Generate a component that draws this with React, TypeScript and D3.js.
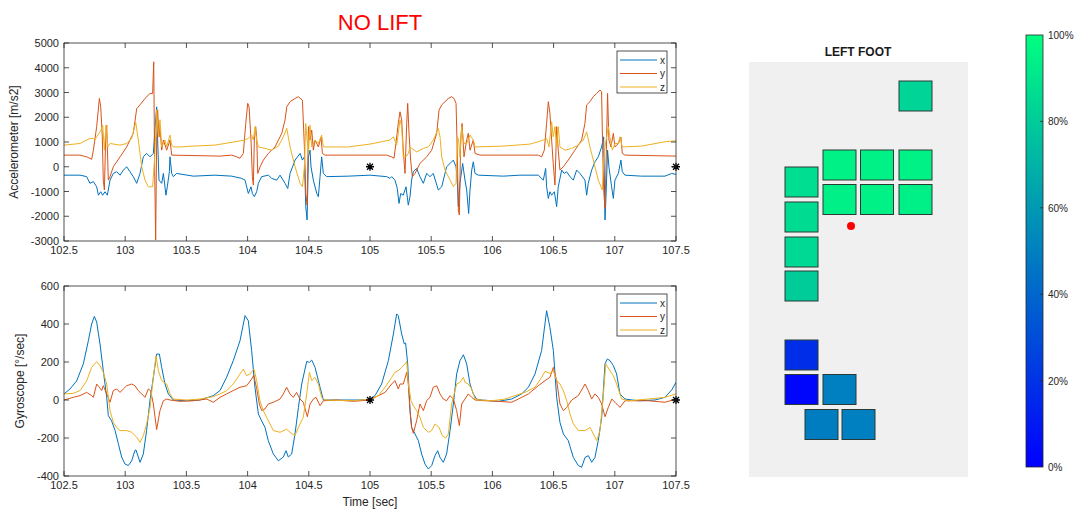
import React from 'react';
import * as d3 from 'd3';

// ---------- DATA ----------
const timeTicks = [102.5, 103, 103.5, 104, 104.5, 105, 105.5, 106, 106.5, 107, 107.5];
const accTicks = [-3000, -2000, -1000, 0, 1000, 2000, 3000, 4000, 5000];
const gyroTicks = [-400, -200, 0, 200, 400, 600];
const seriesNames = ['x', 'y', 'z'];
const seriesColors = ['#0072BD', '#D95319', '#EDB120'];
const markerTimes = [105, 107.5];

const accX: [number, number][] = [[102.5,-340],[102.631,-340],[102.685,-400],[102.712,-670],[102.74,-600],[102.767,-810],[102.781,-1150],[102.8,-1010],[102.816,-1150],[102.835,-1010],[102.854,-1150],[102.876,-540],[102.903,-270],[102.93,-200],[102.958,-340],[102.985,-135],[103.012,0],[103.039,-200],[103.066,-400],[103.094,-670],[103.121,-270],[103.148,400],[103.175,540],[103.203,400],[103.23,540],[103.243,1500],[103.257,2420],[103.265,1080],[103.276,-540],[103.298,-670],[103.312,-270],[103.333,-1150],[103.344,-810],[103.361,-200],[103.366,400],[103.38,-270],[103.393,-400],[103.42,-270],[103.557,-380],[103.734,-340],[103.87,-380],[103.952,-470],[103.979,-540],[104.006,-1080],[104.028,-810],[104.039,-1080],[104.055,-1210],[104.074,-1010],[104.088,-670],[104.115,-400],[104.17,-340],[104.197,-470],[104.238,-540],[104.265,-340],[104.306,-670],[104.328,-880],[104.347,-270],[104.388,270],[104.429,540],[104.448,270],[104.464,400],[104.475,-1600],[104.486,-2150],[104.497,400],[104.51,670],[104.518,0],[104.537,-540],[104.565,-1080],[104.578,-1210],[104.592,-400],[104.605,400],[104.619,-270],[104.646,-400],[104.823,-380],[105.0,-340],[105.136,-400],[105.163,-470],[105.177,-400],[105.204,-540],[105.223,-880],[105.237,-1480],[105.251,-1080],[105.272,-1150],[105.294,-810],[105.313,-1550],[105.327,-1210],[105.34,-540],[105.354,-200],[105.381,-70],[105.408,-400],[105.436,-670],[105.463,-270],[105.49,-400],[105.517,-270],[105.558,-940],[105.586,-810],[105.626,0],[105.654,135],[105.681,270],[105.703,0],[105.714,-670],[105.722,-1610],[105.735,-670],[105.757,135],[105.776,-540],[105.79,-940],[105.806,-1890],[105.817,-940],[105.831,-135],[105.844,200],[105.858,-270],[105.885,-340],[106.089,-380],[106.225,-340],[106.375,-340],[106.416,-540],[106.435,-70],[106.443,-810],[106.457,-1280],[106.47,-1010],[106.484,-1150],[106.506,-1010],[106.525,-1610],[106.538,-810],[106.566,-135],[106.587,-270],[106.606,-200],[106.634,-400],[106.661,-540],[106.688,-135],[106.715,-270],[106.756,-540],[106.77,-1150],[106.783,-670],[106.811,-135],[106.838,200],[106.865,400],[106.892,800],[106.909,1210],[106.92,-2150],[106.928,-1210],[106.941,670],[106.952,0],[106.974,-810],[106.988,-1280],[107.001,-540],[107.029,-270],[107.05,270],[107.061,-200],[107.083,-340],[107.219,-380],[107.41,-380],[107.464,-270],[107.5,-310]];

const accY: [number, number][] = [[102.5,470],[102.631,470],[102.685,400],[102.726,300],[102.74,670],[102.767,1620],[102.789,2760],[102.8,2420],[102.813,1210],[102.821,-540],[102.83,-940],[102.84,1080],[102.849,1680],[102.862,-540],[102.876,-400],[102.903,0],[102.958,400],[103.012,800],[103.066,1350],[103.094,2350],[103.121,2500],[103.162,2760],[103.203,2960],[103.224,2960],[103.233,4240],[103.241,-200],[103.249,-2960],[103.257,1080],[103.265,2300],[103.276,1200],[103.284,1620],[103.298,670],[103.312,1080],[103.339,670],[103.366,1080],[103.38,470],[103.775,430],[103.87,470],[103.911,400],[103.938,340],[103.965,540],[103.985,1750],[104.001,2560],[104.012,2420],[104.028,1080],[104.039,-400],[104.047,-740],[104.055,1080],[104.066,1620],[104.074,1210],[104.083,-270],[104.102,0],[104.129,270],[104.17,540],[104.224,800],[104.279,1350],[104.306,1890],[104.32,2420],[104.347,2630],[104.388,2760],[104.415,2830],[104.448,2690],[104.464,800],[104.475,-1080],[104.486,-1550],[104.497,1620],[104.51,1080],[104.524,1480],[104.537,670],[104.551,1080],[104.578,800],[104.6,1200],[104.611,540],[104.633,470],[105.136,470],[105.177,400],[105.196,340],[105.212,940],[105.231,1750],[105.245,2220],[105.259,1890],[105.272,670],[105.286,-270],[105.3,1750],[105.308,2560],[105.319,1350],[105.332,270],[105.346,-400],[105.368,-270],[105.408,135],[105.463,400],[105.504,670],[105.545,1350],[105.564,2290],[105.586,2500],[105.64,2760],[105.667,2830],[105.686,2760],[105.703,2560],[105.714,400],[105.722,-1750],[105.73,-1950],[105.741,1080],[105.752,1750],[105.768,400],[105.79,1080],[105.803,1350],[105.817,670],[105.844,1080],[105.858,540],[105.899,470],[106.375,470],[106.402,400],[106.424,670],[106.443,1750],[106.457,2630],[106.47,2160],[106.484,1080],[106.497,135],[106.511,-740],[106.525,1620],[106.538,670],[106.552,-135],[106.579,0],[106.62,270],[106.674,670],[106.729,1080],[106.756,1750],[106.77,2500],[106.797,2630],[106.824,2830],[106.851,2960],[106.879,3100],[106.892,3030],[106.901,670],[106.911,-1080],[106.92,-1680],[106.933,1080],[106.941,2960],[106.952,1080],[106.969,800],[106.988,1350],[107.001,800],[107.029,940],[107.05,1200],[107.061,540],[107.083,470],[107.5,430]];

const accZ: [number, number][] = [[102.5,875],[102.631,940],[102.712,1145],[102.74,1145],[102.753,1080],[102.767,1210],[102.8,1450],[102.816,1680],[102.83,670],[102.843,1680],[102.857,800],[102.876,940],[102.958,875],[103.012,940],[103.053,1145],[103.086,1800],[103.107,1080],[103.135,0],[103.162,-540],[103.189,-810],[103.224,-810],[103.243,540],[103.257,2300],[103.271,1200],[103.284,1900],[103.298,800],[103.325,1080],[103.339,800],[103.366,1280],[103.38,875],[103.393,800],[103.448,800],[103.557,835],[103.734,875],[103.897,1010],[103.979,1080],[104.006,1145],[104.033,1280],[104.047,1080],[104.061,1620],[104.074,1080],[104.088,800],[104.142,740],[104.197,670],[104.251,830],[104.292,1210],[104.32,1550],[104.347,800],[104.388,0],[104.429,-670],[104.448,-810],[104.464,0],[104.475,1750],[104.486,1080],[104.497,540],[104.51,1680],[104.524,800],[104.551,1080],[104.578,940],[104.605,1280],[104.619,800],[104.823,800],[105.0,915],[105.163,1080],[105.191,1210],[105.218,875],[105.245,1890],[105.259,1620],[105.272,400],[105.294,400],[105.313,540],[105.327,800],[105.381,600],[105.436,740],[105.477,800],[105.517,1080],[105.558,1550],[105.572,1210],[105.586,400],[105.613,-130],[105.654,-540],[105.681,-800],[105.703,-670],[105.714,1210],[105.724,1080],[105.735,400],[105.749,1620],[105.768,940],[105.79,940],[105.817,1280],[105.844,1080],[105.858,800],[106.089,835],[106.307,915],[106.375,1010],[106.416,1080],[106.443,1145],[106.462,800],[106.484,1820],[106.497,1210],[106.511,1620],[106.525,800],[106.538,1620],[106.552,800],[106.593,670],[106.647,740],[106.702,875],[106.743,1080],[106.77,1410],[106.797,800],[106.838,0],[106.865,-540],[106.898,-940],[106.906,0],[106.92,800],[106.933,1210],[106.947,1620],[106.96,1210],[106.98,670],[107.001,940],[107.029,940],[107.042,1210],[107.061,800],[107.219,835],[107.41,1010],[107.5,1050]];

const gyroX: [number, number][] = [[102.5,32],[102.549,58],[102.603,100],[102.658,190],[102.699,312],[102.726,400],[102.748,440],[102.767,410],[102.794,295],[102.821,155],[102.849,14],[102.862,-82],[102.889,-110],[102.917,-160],[102.944,-230],[102.971,-300],[102.998,-337],[103.026,-345],[103.053,-320],[103.08,-265],[103.088,-263],[103.107,-300],[103.121,-328],[103.148,-284],[103.175,-160],[103.203,0],[103.23,120],[103.257,242],[103.279,242],[103.298,172],[103.325,85],[103.352,32],[103.393,0],[103.502,-4],[103.611,0],[103.72,23],[103.775,50],[103.829,120],[103.883,207],[103.938,312],[103.979,444],[104.006,417],[104.033,260],[104.06,67],[104.088,-74],[104.115,-110],[104.142,-144],[104.169,-214],[104.21,-284],[104.251,-320],[104.292,-300],[104.314,-267],[104.333,-300],[104.36,-284],[104.387,-180],[104.415,-40],[104.442,84],[104.483,203],[104.505,198],[104.524,210],[104.551,172],[104.592,67],[104.619,0],[104.7,0],[104.918,0],[105.0,5],[105.041,23],[105.095,84],[105.15,207],[105.191,347],[105.218,453],[105.231,444],[105.259,347],[105.28,295],[105.291,300],[105.308,190],[105.327,-56],[105.34,-144],[105.368,-179],[105.395,-214],[105.422,-284],[105.449,-337],[105.477,-363],[105.504,-345],[105.531,-293],[105.553,-267],[105.572,-302],[105.599,-328],[105.626,-284],[105.654,-161],[105.681,-21],[105.708,137],[105.735,207],[105.763,238],[105.79,190],[105.817,84],[105.844,32],[105.871,5],[105.912,0],[105.994,-4],[106.048,-7],[106.157,5],[106.239,32],[106.294,67],[106.348,137],[106.402,260],[106.443,470],[106.47,382],[106.498,260],[106.525,14],[106.552,-118],[106.58,-179],[106.62,-214],[106.661,-302],[106.702,-345],[106.729,-354],[106.757,-302],[106.784,-293],[106.811,-328],[106.838,-302],[106.865,-214],[106.893,-91],[106.92,190],[106.939,216],[106.961,207],[106.988,181],[107.015,137],[107.042,32],[107.083,5],[107.192,-4],[107.328,0],[107.41,14],[107.465,53],[107.5,93]];

const gyroY: [number, number][] = [[102.5,0],[102.576,14],[102.631,23],[102.685,40],[102.726,23],[102.74,14],[102.767,84],[102.789,67],[102.808,50],[102.821,75],[102.849,32],[102.876,-12],[102.903,50],[102.93,58],[102.958,40],[102.985,58],[103.012,75],[103.053,84],[103.08,75],[103.107,49],[103.135,32],[103.162,14],[103.189,58],[103.208,49],[103.23,-21],[103.257,-156],[103.284,-56],[103.312,-4],[103.339,5],[103.366,0],[103.448,-7],[103.557,-4],[103.666,5],[103.72,-12],[103.775,14],[103.829,32],[103.883,50],[103.938,67],[103.992,75],[104.033,110],[104.05,130],[104.074,60],[104.096,-21],[104.115,-56],[104.142,-47],[104.169,-21],[104.21,-12],[104.265,5],[104.292,32],[104.319,67],[104.346,32],[104.373,14],[104.4,40],[104.428,5],[104.455,-12],[104.488,-88],[104.51,-21],[104.537,5],[104.559,14],[104.592,-30],[104.619,-4],[104.728,0],[104.864,-7],[105.0,0],[105.068,23],[105.123,40],[105.177,84],[105.204,102],[105.231,58],[105.245,84],[105.272,84],[105.3,146],[105.313,84],[105.327,-56],[105.34,-144],[105.354,-175],[105.381,-109],[105.408,-21],[105.436,-56],[105.463,-3],[105.49,14],[105.517,67],[105.545,75],[105.572,32],[105.599,5],[105.626,-4],[105.654,23],[105.681,5],[105.708,-56],[105.73,-135],[105.749,-21],[105.776,5],[105.803,32],[105.831,14],[105.858,0],[105.94,-4],[106.048,-7],[106.157,-12],[106.212,5],[106.294,32],[106.375,75],[106.43,102],[106.47,119],[106.498,172],[106.525,102],[106.552,-21],[106.58,-56],[106.607,-39],[106.648,0],[106.702,23],[106.757,84],[106.784,49],[106.811,5],[106.838,32],[106.865,14],[106.893,-21],[106.92,-88],[106.947,-39],[106.975,5],[107.002,-12],[107.042,-39],[107.083,-4],[107.274,-4],[107.41,-12],[107.5,5]];

const gyroZ: [number, number][] = [[102.5,32],[102.576,35],[102.631,50],[102.685,100],[102.726,172],[102.767,202],[102.794,181],[102.821,146],[102.849,84],[102.876,-56],[102.903,-118],[102.93,-144],[102.958,-161],[103.012,-161],[103.053,-170],[103.094,-196],[103.121,-223],[103.148,-188],[103.175,-126],[103.203,-39],[103.23,119],[103.252,233],[103.271,154],[103.298,102],[103.339,84],[103.366,32],[103.393,5],[103.502,0],[103.611,5],[103.72,18],[103.775,32],[103.829,49],[103.883,84],[103.938,137],[103.965,163],[103.992,128],[104.019,137],[104.052,163],[104.074,102],[104.101,-4],[104.128,-56],[104.155,-91],[104.183,-126],[104.21,-161],[104.265,-170],[104.319,-153],[104.346,-170],[104.387,-188],[104.415,-144],[104.455,-91],[104.483,32],[104.505,146],[104.524,102],[104.551,119],[104.578,84],[104.605,14],[104.632,0],[104.864,-4],[105.0,5],[105.068,23],[105.123,67],[105.177,119],[105.204,146],[105.231,154],[105.259,172],[105.286,190],[105.3,203],[105.313,84],[105.335,-3],[105.354,-30],[105.381,-56],[105.408,-91],[105.436,-144],[105.477,-170],[105.504,-161],[105.531,-126],[105.564,-144],[105.591,-188],[105.618,-200],[105.64,-179],[105.667,-21],[105.708,84],[105.735,93],[105.763,119],[105.776,93],[105.803,84],[105.831,58],[105.858,5],[105.899,0],[105.994,-4],[106.103,5],[106.185,23],[106.266,40],[106.348,67],[106.402,119],[106.43,151],[106.47,140],[106.498,154],[106.525,102],[106.552,84],[106.58,49],[106.607,-3],[106.634,-74],[106.661,-126],[106.702,-161],[106.757,-161],[106.798,-144],[106.825,-179],[106.852,-214],[106.879,-161],[106.907,32],[106.926,190],[106.961,154],[106.988,128],[107.015,84],[107.056,5],[107.111,-4],[107.274,5],[107.41,14],[107.5,32]];

// Foot sensors (grid position in panel units) and pressure %
const sensorCol = [16.65, 9.05, 12.8, 16.65, 9.05, 12.8, 16.65, 5.25, 5.25, 5.25, 5.25, 5.25, 5.25, 9.05, 7.25, 10.95];
const sensorRow = [3.4, 10.3, 10.3, 10.3, 13.75, 13.75, 13.75, 12.0, 15.5, 19.0, 22.4, 29.3, 32.75, 32.75, 36.25, 36.25];
const sensorPressure = [83, 95, 95, 95, 94, 95, 94, 87, 86, 85, 80, 18, 2, 50, 49, 50];
const copPoint = [10.2, 16.4];
const colorbarTicks = [0, 20, 40, 60, 80, 100];

// ---------- LAYOUT ----------
const FONT = 'Liberation Sans, Arial, Helvetica, sans-serif';
const AX = '#262626';
const plotLeft = 64, plotRight = 676;

type Pt = [number, number];

function Panel(props: {
  top: number; bottom: number; domain: [number, number]; ticks: number[];
  series: Pt[][]; ylabel: string; ylabelX: number; id: string; xlabel?: string;
}) {
  const { top, bottom, domain, ticks, series, ylabel, ylabelX, id, xlabel } = props;
  const x = d3.scaleLinear().domain([102.5, 107.5]).range([plotLeft, plotRight]);
  const y = d3.scaleLinear().domain(domain).range([bottom, top]);
  const line = d3.line<Pt>().x(d => x(d[0])).y(d => y(d[1]));
  const tl = 5;
  const star = 'M-4,0H4M0,-4V4M-3,-3L3,3M-3,3L3,-3';
  const lx = plotRight - 59, ly = top + 8;
  return (
    <g>
      <defs>
        <clipPath id={id}>
          <rect x={plotLeft} y={top} width={plotRight - plotLeft} height={bottom - top} />
        </clipPath>
      </defs>
      <rect x={plotLeft} y={top} width={plotRight - plotLeft} height={bottom - top} fill="#fff" />
      <g clipPath={`url(#${id})`}>
        {series.map((s, i) => (
          <path key={i} d={line(s) || ''} fill="none" stroke={seriesColors[i]} strokeWidth={1} strokeLinejoin="round" />
        ))}
      </g>
      {markerTimes.map((t, i) => (
        <path key={'mm' + i} d={star} transform={`translate(${x(t)},${y(0)})`} stroke="#000" strokeWidth={1.3} fill="none" />
      ))}
      {timeTicks.map(t => (
        <g key={'xt' + t}>
          <line x1={x(t)} x2={x(t)} y1={bottom} y2={bottom - tl} stroke={AX} strokeWidth={0.8} />
          <line x1={x(t)} x2={x(t)} y1={top} y2={top + tl} stroke={AX} strokeWidth={0.8} />
          <text x={x(t)} y={bottom + 13} fontSize={11} fontFamily={FONT} fill={AX} textAnchor="middle">{String(t)}</text>
        </g>
      ))}
      {ticks.map(v => (
        <g key={'yt' + v}>
          <line x1={plotLeft} x2={plotLeft + tl} y1={y(v)} y2={y(v)} stroke={AX} strokeWidth={0.8} />
          <line x1={plotRight} x2={plotRight - tl} y1={y(v)} y2={y(v)} stroke={AX} strokeWidth={0.8} />
          <text x={plotLeft - 5} y={y(v) + 4} fontSize={11} fontFamily={FONT} fill={AX} textAnchor="end">{String(v)}</text>
        </g>
      ))}
      <rect x={plotLeft} y={top} width={plotRight - plotLeft} height={bottom - top} fill="none" stroke={AX} strokeWidth={0.8} />
      <text transform={`translate(${ylabelX},${(top + bottom) / 2}) rotate(-90)`} fontSize={12} fontFamily={FONT} fill={AX} textAnchor="middle">{ylabel}</text>
      {xlabel && (
        <text x={(plotLeft + plotRight) / 2} y={bottom + 30} fontSize={12} fontFamily={FONT} fill={AX} textAnchor="middle">{xlabel}</text>
      )}
      <rect x={lx} y={ly} width={50} height={42} fill="#fff" stroke={AX} strokeWidth={0.8} />
      {seriesNames.map((n, i) => (
        <g key={n}>
          <line x1={lx + 3} x2={lx + 40} y1={ly + 9 + i * 13.5} y2={ly + 9 + i * 13.5} stroke={seriesColors[i]} strokeWidth={1} />
          <text x={lx + 43} y={ly + 12.5 + i * 13.5} fontSize={10} fontFamily={FONT} fill={AX}>{n}</text>
        </g>
      ))}
    </g>
  );
}

export default function App() {
  const winter = d3.interpolateRgb('#0000ff', '#00ff80');
  const fx = d3.scaleLinear().domain([0, 21.9]).range([749, 968]);
  const fy = d3.scaleLinear().domain([0, 41.5]).range([62, 477]);
  const sw = 3.3, sh = 3.0;
  const cby = d3.scaleLinear().domain([0, 100]).range([467, 35]);
  const gradStops = d3.range(0, 1.0001, 0.1);
  return (
    <svg width={1082} height={511} style={{ position: 'absolute', left: 0, top: 0, background: '#fff' }}>
      <rect x={0} y={0} width={1082} height={511} fill="#fff" />
      <text x={380} y={30} fontSize={22} fontFamily={FONT} fill="#ff0000" textAnchor="middle">NO LIFT</text>
      <Panel id="cpAcc" top={43} bottom={241} domain={[-3000, 5000]} ticks={accTicks}
        series={[accX, accY, accZ]} ylabel="Accelerometer [m/s2]" ylabelX={18} />
      <Panel id="cpGyro" top={286} bottom={476} domain={[-400, 600]} ticks={gyroTicks}
        series={[gyroX, gyroY, gyroZ]} ylabel="Gyroscope [°/sec]" ylabelX={24} xlabel="Time [sec]" />

      <text x={858} y={56} fontSize={12} fontWeight="bold" fontFamily={FONT} fill="#1a1a1a" textAnchor="middle">LEFT FOOT</text>
      <rect x={fx(0)} y={fy(0)} width={fx(21.9) - fx(0)} height={fy(41.5) - fy(0)} fill="#f0f0f0" />
      {sensorPressure.map((p, i) => (
        <rect key={i}
          x={fx(sensorCol[i] - sw / 2)} y={fy(sensorRow[i] - sh / 2)}
          width={fx(sw) - fx(0)} height={fy(sh) - fy(0)}
          fill={winter(p / 100)} stroke="#2b3a35" strokeWidth={1} />
      ))}
      <circle cx={fx(copPoint[0])} cy={fy(copPoint[1])} r={4} fill="#ff0000" />

      <defs>
        <linearGradient id="cbGrad" x1="0" y1="1" x2="0" y2="0">
          {gradStops.map(s => (
            <stop key={s} offset={s} stopColor={winter(s)} />
          ))}
        </linearGradient>
      </defs>
      <rect x={1026} y={cby(100)} width={17} height={cby(0) - cby(100)} fill="url(#cbGrad)" stroke={AX} strokeWidth={0.8} />
      {colorbarTicks.map(t => (
        <g key={t}>
          {t > 0 && t < 100 && <line x1={1043} x2={1040} y1={cby(t)} y2={cby(t)} stroke={AX} strokeWidth={0.8} />}
          <text x={1048} y={cby(t) + 4} fontSize={10} fontFamily={FONT} fill={AX}>{t + '%'}</text>
        </g>
      ))}
    </svg>
  );
}
